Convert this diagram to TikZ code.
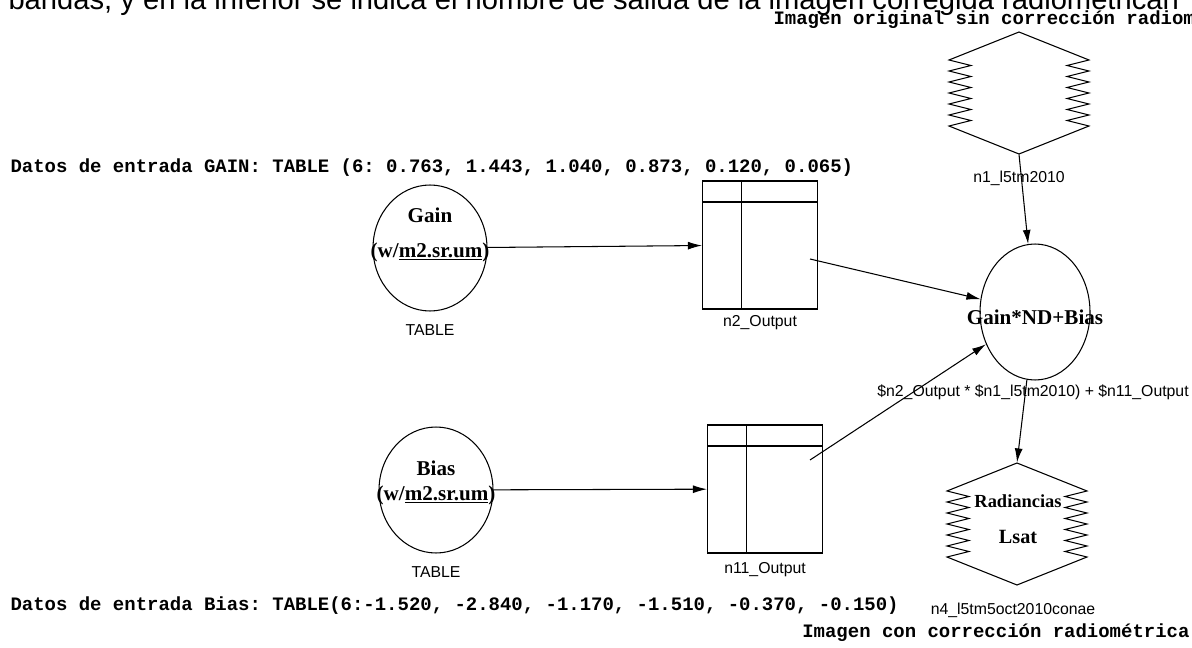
\documentclass[tikz,border=0pt]{standalone}
\usepackage{fontspec}
\setmainfont{Liberation Serif}
\setsansfont{Liberation Sans}
\setmonofont{Liberation Mono}
\usetikzlibrary{arrows.meta,positioning,calc,shapes.geometric}

\begin{document}
\begin{tikzpicture}[
    x=0.02cm, y=-0.02cm,
    line width=0.6pt,
    >={Latex[length=8pt,width=4.5pt]},
    data ellipse/.style={ellipse, draw, inner sep=0pt, minimum width=2.28cm, minimum height=2.52cm},
    op ellipse/.style={ellipse, draw, inner sep=0pt, minimum width=2.2cm, minimum height=2.72cm},
    table box/.style={rectangle, draw, inner sep=0pt, minimum width=2.3cm, minimum height=2.56cm,
        path picture={
            \draw ([yshift=-0.42cm]path picture bounding box.north west) -- ([yshift=-0.42cm]path picture bounding box.north east);
            \draw ([xshift=0.78cm]path picture bounding box.north west) -- ([xshift=0.78cm]path picture bounding box.south west);
        }},
    img box/.style={rectangle, inner sep=0pt, minimum width=2.8cm, minimum height=2.44cm},
    bold lbl/.style={font=\bfseries\fontsize{12}{14}\selectfont, inner sep=0pt},
    name lbl/.style={font=\sffamily\fontsize{9}{11}\selectfont, inner sep=0pt},
    note/.style={font=\ttfamily\bfseries\fontsize{10.8}{13}\selectfont, inner sep=0pt},
]

% Frame
\useasboundingbox (0,0) rectangle (1192,648);
\clip (0,0) rectangle (1192,648);

% Cut-off line of the page above
\node[font=\sffamily\fontsize{16.6}{20}\selectfont, anchor=base west, inner sep=0pt] (hdr) at (8,10)
    {bandas, y en la inferior se indica el nombre de salida de la imagen corregida radiométrican};

% Notes
\node[note, anchor=west] (top note) at (773,20) {Imagen original sin corrección radiométrica};
\node[note, anchor=west] (gain data) at (10,168) {Datos de entrada GAIN: TABLE (6: 0.763, 1.443, 1.040, 0.873, 0.120, 0.065)};
\node[note, anchor=west] (bias data) at (10,606) {Datos de entrada Bias: TABLE(6:-1.520, -2.840, -1.170, -1.510, -0.370, -0.150)};
\node[note, anchor=east] (bottom note) at (1190,633) {Imagen con corrección radiométrica};

% Input tables
\node[data ellipse] (gain) at (430,248) {};
\node[bold lbl] at ($(gain)+(0,-33)$) {Gain};
\node[bold lbl] at ($(gain)+(0,4)$) {(w/\underline{m2.sr.um})};
\node[name lbl] at ($(gain)+(0,82)$) {TABLE};

\node[data ellipse] (bias) at (436,490) {};
\node[bold lbl] at ($(bias)+(0,-22)$) {Bias};
\node[bold lbl] at ($(bias)+(0,5)$) {(w/\underline{m2.sr.um})};
\node[name lbl] at ($(bias)+(0,82)$) {TABLE};

% Outputs of the tables
\node[table box] (n2) at (760,245) {};
\node[name lbl] at ($(n2)+(0,78)$) {n2\_Output};
\node[table box] (n11) at (765,489) {};
\node[name lbl] at ($(n11)+(0,81)$) {n11\_Output};
\coordinate (n2 out) at ($(n2)+(50,14)$);
\coordinate (n11 out) at ($(n11)+(45,-29)$);

% Images
\node[img box] (n1) at (1019,93) {};
\node[name lbl] at ($(n1)+(0,85)$) {n1\_l5tm2010};
\node[img box] (n4) at (1017,524) {};
\node[font=\bfseries\fontsize{10.5}{12}\selectfont, inner sep=0pt] at ($(n4)+(1,-23)$) {Radiancias};
\node[font=\bfseries\fontsize{11.5}{13}\selectfont, inner sep=0pt] at ($(n4)+(1,13)$) {Lsat};
\node[name lbl] at ($(n4)+(-4,86)$) {n4\_l5tm5oct2010conae};

\foreach \n in {n1,n4} {
    \draw ($(\n)+(0,-61)$) -- ($(\n)+(-70,-33)$)
        \foreach \k in {0,...,5} { -- ($(\n)+(-48,-27.5+11*\k)$) -- ($(\n)+(-70,-22+11*\k)$) }
        -- ($(\n)+(0,61)$) -- ($(\n)+(70,33)$)
        \foreach \k in {0,...,5} { -- ($(\n)+(48,27.5-11*\k)$) -- ($(\n)+(70,22-11*\k)$) }
        -- cycle;
}

% Operation
\node[op ellipse] (op) at (1035,312) {};
\node[bold lbl] at ($(op)+(0,5)$) {Gain*ND+Bias};
\node[name lbl] at ($(op)+(-2,80)$) {\$n2\_Output * \$n1\_l5tm2010) + \$n11\_Output};

% Connectors
\draw[->] (gain) -- (n2);
\draw[->] (bias) -- (n11);
\draw[->] (n2 out) -- (op);
\draw[->] (n11 out) -- (op);
\draw[->] (n1.south) -- (op);
\draw[->] (op) -- (n4.north);

\end{tikzpicture}
\end{document}
